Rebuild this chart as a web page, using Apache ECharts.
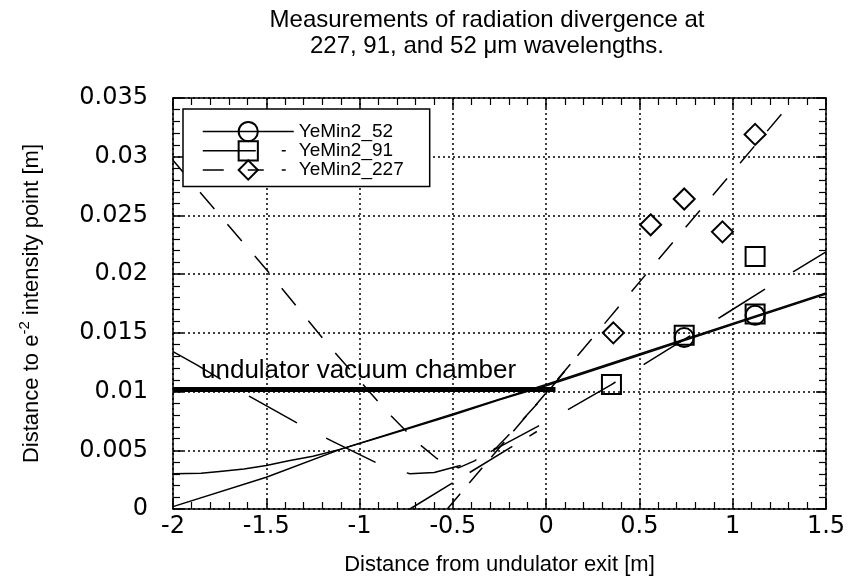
<!DOCTYPE html>
<html><head><meta charset="utf-8">
<script src="https://cdn.jsdelivr.net/npm/echarts@6/dist/echarts.min.js"></script>
<style>html,body{margin:0;padding:0;background:#fff}#c{width:851px;height:581px}</style>
</head><body><div id="c"></div>
<script>
// ---- text ----
const titleLines = ['Measurements of radiation divergence at', '227, 91, and 52 \u03bcm wavelengths.'];
const xAxisName = 'Distance from undulator exit [m]';
const yAxisNameParts = ['Distance to e', '-2', ' intensity point [m]'];
const xTickLabels = ['-2', '-1.5', '-1', '-0.5', '0', '0.5', '1', '1.5'];
const yTickLabels = ['0', '0.005', '0.01', '0.015', '0.02', '0.025', '0.03', '0.035'];
const seriesNames = ['YeMin2_52', 'YeMin2_91', 'YeMin2_227'];
const chamberLabel = 'undulator vacuum chamber';

// ---- measured points ----
const x52 = [0.74, 1.12];
const y52 = [0.0146, 0.0165];
const x91 = [0.35, 0.74, 1.12, 1.12];
const y91 = [0.0106, 0.0148, 0.0166, 0.0215];
const x227 = [0.36, 0.56, 0.74, 0.945, 1.12];
const y227 = [0.0150, 0.0242, 0.0264, 0.0236, 0.0319];

// ---- fit curves ----
const fit52aX = [-2, -1.85, -1.75, -1.62, -1.5, -1.38, -1.25, -1.1, -0.85, -0.5, -0.25, 0, 0.5, 1, 1.5];
const fit52aY = [0.0030, 0.00305, 0.0032, 0.0034, 0.0037, 0.0041, 0.0045, 0.0051, 0.0063, 0.0080, 0.0093, 0.0105, 0.0131, 0.0157, 0.0183];
const fit52bX = [-2, -1.5, -1.1, -0.5, 0, 0.5, 1, 1.5];
const fit52bY = [0.0002, 0.0027, 0.0051, 0.0081, 0.0106, 0.0132, 0.0158, 0.0184];
const fit91aX = [-2, -1.875, -1.58, -1.31, -1.15, -0.88, -0.73, -0.6, -0.46, -0.32, -0.05, 0.11, 0.35, 0.95, 1.22, 1.5];
const fit91aY = [0.0134, 0.0123, 0.0095, 0.0071, 0.0058, 0.0037, 0.0030, 0.0031, 0.0037, 0.0047, 0.0070, 0.0084, 0.0106, 0.0165, 0.0192, 0.0219];
const fit91bX = [-0.73, -0.05];
const fit91bY = [0.0, 0.0066];
const fit227aX = [-2, -1.846, -1.5, -1.17, -0.854, -0.686, -0.586, -0.47, -0.384, -0.268, -0.176, -0.103, 0, 0.155, 0.7, 1.33];
const fit227aY = [0.0297, 0.0268, 0.0204, 0.0140, 0.0083, 0.0056, 0.0043, 0.0035, 0.0041, 0.0052, 0.0067, 0.0080, 0.0098, 0.0128, 0.0231, 0.0349];
const fit227bX = [-0.53, 0.155];
const fit227bY = [0.0, 0.0128];

// ---- vacuum chamber line ----
const chamberX = [-2, 0.05];
const chamberY = [0.0102, 0.0102];

const pairs = (xs, ys) => xs.map((x, i) => [x, ys[i]]);
const lookup = (labels) => (v) => {
  const f = labels.find(l => Math.abs(parseFloat(l) - v) < 1e-9);
  return f !== undefined ? f : '';
};

const FONT = "'Liberation Sans', Arial, Helvetica, sans-serif";
const TICKFONT = "'DejaVu Sans', 'Liberation Sans', Arial, sans-serif";
const black = '#000';

function fitSeries(xs, ys, dash) {
  return {
    type: 'line', data: pairs(xs, ys), symbol: 'none', silent: true,
    smooth: false,
    lineStyle: { color: black, width: 1.5, type: dash },
    z: 3, animation: false
  };
}
function markerSeries(name, xs, ys, symbol, size) {
  return {
    type: 'line', name: name, data: pairs(xs, ys), symbol: symbol, symbolSize: size,
    showSymbol: true, silent: true,
    lineStyle: { opacity: 0, width: 0 },
    itemStyle: { color: 'rgba(255,255,255,0)', borderColor: black, borderWidth: 2 },
    z: 4, animation: false
  };
}

const axisCommon = {
  axisLine: { show: true, onZero: false, lineStyle: { color: black, width: 1.5 } },
  axisTick: { show: true, inside: true, length: 10, lineStyle: { color: black, width: 1.5 } },
  minorTick: { show: true, splitNumber: 5, length: 7, lineStyle: { color: black, width: 1.2 } }
};

const chart = echarts.init(document.getElementById('c'), null, { renderer: 'canvas' });
chart.setOption({
  animation: false,
  backgroundColor: '#fff',
  title: {
    text: titleLines.join('\n'), left: 482, top: 2, textAlign: 'center',
    textStyle: { fontFamily: FONT, fontSize: 24, fontWeight: 'normal', color: black, lineHeight: 26 }
  },
  grid: { left: 173, right: 25, top: 98, bottom: 72, containLabel: false, outerBoundsMode: 'none' },
  legend: {
    show: true, orient: 'vertical', left: 183, top: 109,
    padding: [12, 26, 6, 19], itemGap: -2, itemWidth: 91, itemHeight: 24,
    borderColor: black, borderWidth: 1.5, backgroundColor: '#fff',
    selectedMode: false,
    textStyle: { fontFamily: FONT, fontSize: 19, color: black },
    data: [
      { name: seriesNames[0], lineStyle: { color: black, width: 1.5, type: 'solid', opacity: 1 } },
      { name: seriesNames[1], lineStyle: { color: black, width: 1.5, type: [53, 26, 4, 20], opacity: 1 } },
      { name: seriesNames[2], lineStyle: { color: black, width: 1.5, type: [21, 24, 16, 18, 4, 20], opacity: 1 } }
    ]
  },
  xAxis: [
    Object.assign({
      type: 'value', position: 'bottom', min: -2, max: 1.5, interval: 0.5,
      name: xAxisName, nameLocation: 'middle', nameGap: 45,
      nameTextStyle: { fontFamily: FONT, fontSize: 22, color: black },
      axisLabel: { show: true, margin: 6, fontFamily: TICKFONT, fontSize: 24, color: black, formatter: lookup(xTickLabels) },
      splitLine: { show: true, lineStyle: { color: black, width: 1.5, type: [2, 3] } }
    }, axisCommon),
    Object.assign({
      type: 'value', position: 'top', min: -2, max: 1.5, interval: 0.5,
      axisLabel: { show: false }, splitLine: { show: false }
    }, axisCommon)
  ],
  yAxis: [
    Object.assign({
      type: 'value', position: 'left', min: 0, max: 0.035, interval: 0.005,
      name: '{a|' + yAxisNameParts[0] + '}{s|' + yAxisNameParts[1] + '}{a|' + yAxisNameParts[2] + '}',
      nameLocation: 'middle', nameGap: 126, nameRotate: 90,
      nameTextStyle: {
        color: black, fontFamily: FONT,
        rich: {
          a: { fontFamily: FONT, fontSize: 22, color: black, lineHeight: 30 },
          s: { fontFamily: FONT, fontSize: 15, color: black, verticalAlign: 'top', lineHeight: 16 }
        }
      },
      axisLabel: { show: true, margin: 25, fontFamily: TICKFONT, fontSize: 24, color: black, formatter: lookup(yTickLabels) },
      splitLine: { show: true, lineStyle: { color: black, width: 1.5, type: [2, 3] } }
    }, axisCommon),
    Object.assign({
      type: 'value', position: 'right', min: 0, max: 0.035, interval: 0.005,
      axisLabel: { show: false }, splitLine: { show: false }
    }, axisCommon)
  ],
  series: [
    fitSeries(fit52aX, fit52aY, 'solid'),
    fitSeries(fit52bX, fit52bY, 'solid'),
    fitSeries(fit91aX, fit91aY, [55, 33]),
    fitSeries(fit91bX, fit91bY, [50, 20]),
    fitSeries(fit227aX, fit227aY, [22, 20]),
    fitSeries(fit227bX, fit227bY, [20, 14]),
    {
      type: 'line', data: [], silent: true, animation: false,
      markLine: {
        silent: true, symbol: ['none', 'none'], animation: false,
        lineStyle: { color: black, width: 5, type: 'solid' },
        label: {
          show: true, position: 'insideStartTop', formatter: chamberLabel,
          fontFamily: FONT, fontSize: 26, color: black, distance: [28, 5]
        },
        data: [[{ coord: [chamberX[0], chamberY[0]] }, { coord: [chamberX[1], chamberY[1]] }]]
      }
    },
    markerSeries(seriesNames[0], x52, y52, 'circle', 19),
    markerSeries(seriesNames[1], x91, y91, 'rect', 19),
    markerSeries(seriesNames[2], x227, y227, 'diamond', 21)
  ]
});
</script>
</body></html>
